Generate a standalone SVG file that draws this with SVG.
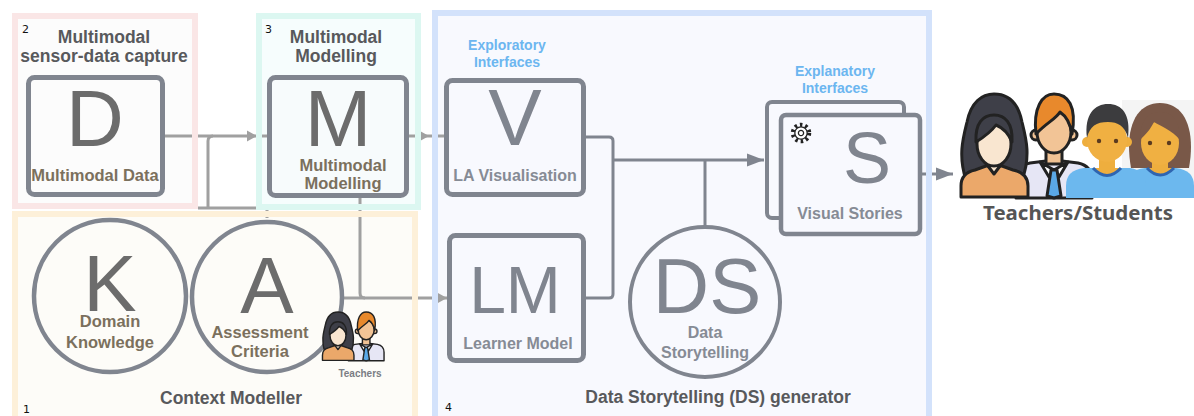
<svg xmlns="http://www.w3.org/2000/svg" xmlns:xlink="http://www.w3.org/1999/xlink" width="1194" height="416" viewBox="0 0 1194 416">
  <style>
    .frame { fill: none; stroke-width: 6; }
    .box { stroke: #80858f; stroke-width: 5; }
    .big { font-family: "Liberation Sans", Arial, sans-serif; font-weight: 400; text-anchor: middle; }
    .bigL { fill: #6c6c6c; font-size: 80px; }
    .bigR { fill: #80858f; }
    .sub { font-family: "Liberation Sans", Arial, sans-serif; font-weight: 700; text-anchor: middle; }
    .subL { fill: #7b705d; font-size: 16.5px; }
    .subR { fill: #868b95; font-size: 16px; }
    .title { font-family: "Liberation Sans", Arial, sans-serif; font-weight: 700; fill: #58595c; text-anchor: middle; font-size: 17.5px; }
    .iface { font-family: "Liberation Sans", Arial, sans-serif; font-weight: 700; fill: #6cb6f0; text-anchor: middle; font-size: 14px; }
    .num { font-family: "DejaVu Sans", sans-serif; fill: #111; font-size: 11px; }
    .wire { fill: none; stroke: #a0a0a0; stroke-width: 3; }
    .wireD { fill: none; stroke: #80858f; stroke-width: 3; }
    .ink { stroke: #222; stroke-width: 3; stroke-linejoin: round; }
  </style>
  <defs>
    <marker id="arrowLight" markerUnits="userSpaceOnUse" markerWidth="11" markerHeight="12" refX="10" refY="6" orient="auto">
      <path d="M0,0.5 L10,6 L0,11.5 Z" fill="#a0a0a0"/>
    </marker>
    <marker id="arrowDark" markerUnits="userSpaceOnUse" markerWidth="18" markerHeight="14" refX="17" refY="7" orient="auto">
      <path d="M0,0.5 L17,7 L0,13.5 Z" fill="#80858f"/>
    </marker>
    <!-- woman and man teacher figures, drawn in a 140x106 box -->
    <g id="teacherPair">
      <path class="ink" d="M56,106 V88 Q56,74 70,71 L94,68 L118,71 Q132,74 132,88 V106 Z" fill="#e6e6f5"/>
      <rect class="ink" x="86" y="56" width="16" height="16" fill="#f0c294" stroke-width="2"/>
      <path class="ink" d="M80,70 L94,78 L89,85 Z M108,70 L94,78 L99,85 Z" fill="#ffffff" stroke-width="2"/>
      <path class="ink" d="M91,78 H97 L101,104 L94,106 L87,104 Z" fill="#5aa8e6" stroke-width="2"/>
      <circle class="ink" cx="76" cy="43" r="5" fill="#f0c294" stroke-width="2"/>
      <circle class="ink" cx="112" cy="43" r="5" fill="#f0c294" stroke-width="2"/>
      <ellipse class="ink" cx="94" cy="40" rx="17" ry="21" fill="#f2c496"/>
      <path class="ink" d="M76,42 C73,16 82,2 94,2 C108,2 117,14 112,42 C110,30 106,24 100,20 C96,27 86,31 76,42 Z" fill="#e8892c"/>
      <path class="ink" d="M6,88 C-2,64 3,46 7,30 C11,10 22,2 34,2 C48,2 58,10 62,30 C66,46 71,64 62,88 Z" fill="#3e3f48"/>
      <path class="ink" d="M1,105 V94 Q1,81 15,78 L26,74 H42 L53,78 Q68,81 68,94 V105 Z" fill="#eba86a"/>
      <path class="ink" d="M25,70 L34,82 L43,70 Z" fill="#f9e6d0" stroke-width="2"/>
      <ellipse class="ink" cx="34" cy="52" rx="17" ry="22" fill="#f9e6d0"/>
      <path class="ink" d="M16,50 C15,31 23,23 34,23 C45,23 53,31 52,50 C48,40 41,35 36,33 C31,40 24,45 16,50 Z" fill="#3e3f48"/>
    </g>
  </defs>

  <rect width="1194" height="416" fill="#ffffff"/>

  <!-- panel backgrounds -->
  <g id="panels">
    <rect x="15" y="16" width="180" height="190" fill="#fcfcfc"/>
    <rect x="259" y="16" width="159" height="191" fill="#f6fdfd"/>
    <rect x="15" y="214" width="400" height="210" fill="#fdfcf8"/>
    <rect x="435" y="13" width="494" height="410" fill="#f8f9fe"/>
  </g>

  <!-- connectors -->
  <g id="connectors">
    <path class="wire" d="M165,136 H257" marker-end="url(#arrowLight)"/>
    <path class="wire" d="M257,136 H268"/>
    <path class="wire" d="M208,207 V141 Q208,136 213,136"/>
    <path class="wire" d="M198,208 H257 M267,206 V218"/>
    <path class="wire" d="M409,136 H429" marker-end="url(#arrowLight)"/>
    <path class="wire" d="M429,136 H446"/>
    <path class="wire" d="M360,198 V293 Q360,298 365,298"/>
    <path class="wire" d="M342,298 H447" marker-end="url(#arrowLight)"/>
    <path class="wireD" d="M586,137 H609 Q613,137 613,141 V294 Q613,298 609,298 H586"/>
    <path class="wireD" d="M613,160 H764" marker-end="url(#arrowDark)"/>
    <path class="wireD" d="M705,160 V228"/>
    <path class="wireD" d="M922,174 H953" marker-end="url(#arrowDark)"/>
  </g>

  <!-- panel frames drawn over the wires -->
  <g id="panel-frames">
    <rect class="frame" x="15" y="16" width="180" height="190" stroke="#fae6e6"/>
    <rect class="frame" x="259" y="16" width="159" height="191" stroke="#dcf7f1"/>
    <rect class="frame" x="15" y="214" width="400" height="210" stroke="#fdf0d9"/>
    <rect class="frame" x="435" y="13" width="494" height="410" stroke="#d3e2fb"/>
  </g>

  <!-- panel 2 -->
  <g id="panel-capture">
    <text class="num" x="22" y="33">2</text>
    <text class="title" x="104" y="43">Multimodal</text>
    <text class="title" x="104" y="62">sensor-data capture</text>
  </g>
  <g id="node-D">
    <rect class="box" x="28.5" y="77.5" width="134" height="117" rx="6" fill="#fcfcfc"/>
    <text class="big bigL" x="95" y="146">D</text>
    <text class="sub subL" x="95" y="181">Multimodal Data</text>
  </g>

  <!-- panel 3 -->
  <g id="panel-modelling">
    <text class="num" x="265" y="33">3</text>
    <text class="title" x="336" y="43">Multimodal</text>
    <text class="title" x="336" y="62">Modelling</text>
  </g>
  <g id="node-M">
    <rect class="box" x="269.5" y="77.5" width="137" height="118" rx="6" fill="#f7fbfc"/>
    <text class="big bigL" x="338" y="146">M</text>
    <text class="sub subL" x="343" y="171" font-size="17">Multimodal</text>
    <text class="sub subL" x="343" y="189" font-size="17">Modelling</text>
  </g>

  <!-- panel 1 -->
  <g id="panel-context">
    <text class="num" x="23" y="413">1</text>
    <text class="title" x="231" y="404" font-size="18">Context Modeller</text>
  </g>
  <g id="node-K">
    <circle cx="110" cy="296" r="76" fill="#fdfcf8" stroke="#80858f" stroke-width="4.5"/>
    <text class="big bigL" x="110" y="311">K</text>
    <text class="sub subL" x="110" y="327" font-size="18">Domain</text>
    <text class="sub subL" x="110" y="348" font-size="18">Knowledge</text>
  </g>
  <g id="node-A">
    <circle cx="267" cy="297" r="75" fill="#fdfcf8" stroke="#80858f" stroke-width="4.5"/>
    <text class="big bigL" x="267" y="313">A</text>
    <text class="sub subL" x="260" y="338">Assessment</text>
    <text class="sub subL" x="260" y="357">Criteria</text>
  </g>
  <g id="teachers-small">
    <use xlink:href="#teacherPair" href="#teacherPair" transform="translate(322,311) scale(0.47)"/>
    <text class="sub" x="360" y="377" font-size="10" fill="#7a7d84">Teachers</text>
  </g>

  <!-- panel 4 -->
  <g id="panel-generator">
    <text class="num" x="445" y="411">4</text>
    <text class="title" x="718" y="403" font-size="17">Data Storytelling (DS) generator</text>
    <text class="iface" x="507" y="50">Exploratory</text>
    <text class="iface" x="507" y="67">Interfaces</text>
    <text class="iface" x="835" y="76">Explanatory</text>
    <text class="iface" x="835" y="93">Interfaces</text>
  </g>
  <g id="node-V">
    <rect class="box" x="446.5" y="80.5" width="137" height="114" rx="6" fill="#f8f9fe"/>
    <text class="big bigR" x="515" y="145" font-size="80">V</text>
    <text class="sub subR" x="515" y="181">LA Visualisation</text>
  </g>
  <g id="node-LM">
    <rect class="box" x="449.5" y="235.5" width="134" height="125" rx="6" fill="#f8f9fe"/>
    <text class="big bigR" x="515" y="313" font-size="66">LM</text>
    <text class="sub subR" x="518" y="349" font-size="16.5">Learner Model</text>
  </g>
  <g id="node-DS">
    <circle cx="705" cy="302" r="75" fill="#f8f9fe" stroke="#80858f" stroke-width="4"/>
    <text class="big bigR" x="707" y="313" font-size="78">DS</text>
    <text class="sub subR" x="705" y="338" font-size="15">Data</text>
    <text class="sub subR" x="705" y="358" font-size="15">Storytelling</text>
  </g>
  <g id="node-S">
    <rect x="767" y="102" width="137" height="116" rx="5" fill="#f8f9fe" stroke="#80858f" stroke-width="4"/>
    <rect x="781" y="115" width="139" height="119" rx="5" fill="#f8f9fe" stroke="#80858f" stroke-width="4.5"/>
    <g transform="translate(801,133)">
      <circle r="8" fill="none" stroke="#222" stroke-width="4.5" stroke-dasharray="2.4 2.8"/>
      <circle r="6.2" fill="#ffffff" stroke="#222" stroke-width="1.3"/>
      <circle r="2.6" fill="none" stroke="#222" stroke-width="1.3"/>
    </g>
    <text class="big bigR" x="867" y="183" font-size="72">S</text>
    <text class="sub subR" x="850" y="219" font-size="18">Visual Stories</text>
  </g>

  <!-- audience -->
  <g id="audience">
    <rect x="1122" y="100" width="72" height="98" fill="#f4f4f4"/>
    <!-- girl -->
    <path d="M1131,168 C1124,128 1136,103 1160,103 C1184,103 1196,128 1189,168 Z" fill="#795848"/>
    <path d="M1124,198 V186 Q1126,170 1145,168 H1176 Q1194,170 1194,186 V198 Z" fill="#6cb8ee"/>
    <path d="M1147,168 Q1160,182 1174,168" fill="#eeae3e" stroke="#2f65b0" stroke-width="3"/>
    <rect x="1152" y="158" width="16" height="12" fill="#eeae3e"/>
    <ellipse cx="1160" cy="143" rx="19" ry="22" fill="#f0b042"/>
    <path d="M1140,140 C1140,118 1150,112 1160,112 C1172,112 1180,120 1180,140 C1172,130 1160,126 1154,122 C1150,130 1146,134 1140,140 Z" fill="#795848"/>
    <circle cx="1150" cy="143" r="2.2" fill="#5a3a20"/>
    <circle cx="1169" cy="143" r="2.2" fill="#5a3a20"/>
    <!-- teachers -->
    <use xlink:href="#teacherPair" href="#teacherPair" transform="translate(960,92)"/>
    <!-- boy -->
    <path d="M1066,198 V186 Q1066,170 1084,168 H1130 Q1146,170 1146,186 V198 Z" fill="#6cb8ee"/>
    <rect x="1099" y="156" width="16" height="14" fill="#eeae3e"/>
    <path d="M1093,168 Q1107,183 1121,168" fill="#eeae3e" stroke="#2f65b0" stroke-width="3"/>
    <circle cx="1087" cy="142" r="5" fill="#eeae3e"/>
    <circle cx="1127" cy="142" r="5" fill="#eeae3e"/>
    <ellipse cx="1107" cy="140" rx="20" ry="22" fill="#f0b042"/>
    <path d="M1087,138 C1084,114 1095,104 1108,104 C1122,104 1131,114 1128,138 C1125,126 1118,122 1108,122 C1096,122 1090,126 1087,138 Z" fill="#3c3c3e"/>
    <circle cx="1099" cy="141" r="2.2" fill="#5a3a20"/>
    <circle cx="1116" cy="141" r="2.2" fill="#5a3a20"/>
    <text x="1078" y="220" font-family="'Noto Sans', 'Liberation Sans', sans-serif" font-weight="700" font-size="20" fill="#555555" text-anchor="middle" textLength="190" lengthAdjust="spacingAndGlyphs">Teachers/Students</text>
  </g>
</svg>
